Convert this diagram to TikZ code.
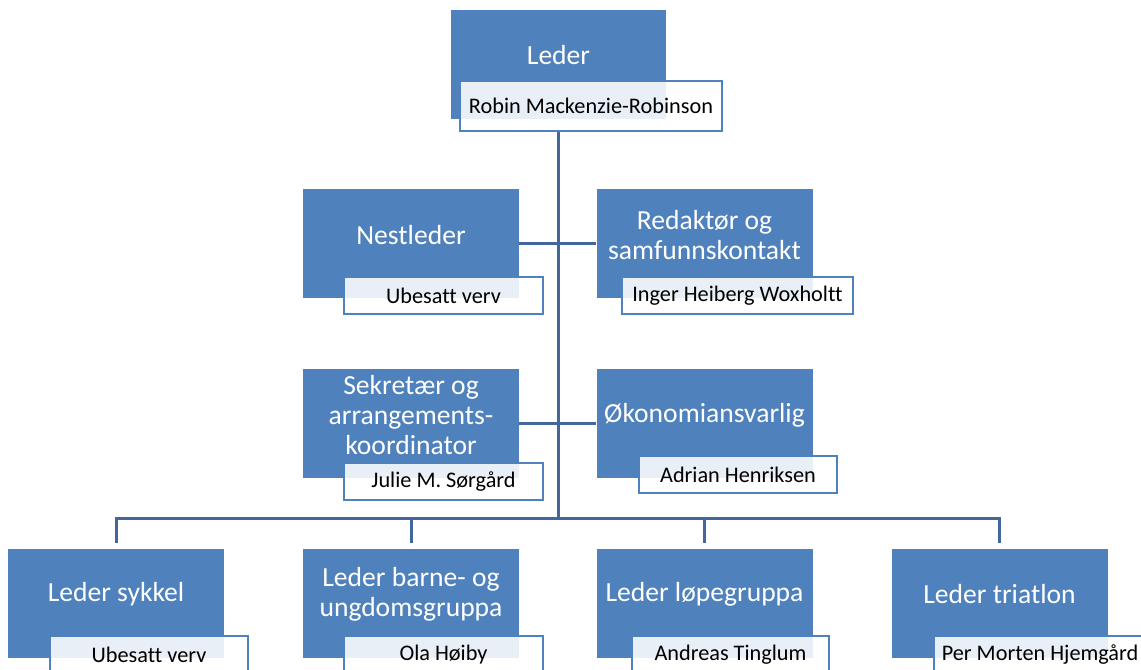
\documentclass[tikz,border=0pt]{standalone}
\usepackage{fontspec}
\setmainfont{Carlito}[Ligatures=CommonOff]
\usepackage{tikz}
\definecolor{roleblue}{RGB}{79,129,189}
\definecolor{linkblue}{RGB}{66,103,152}
\tikzset{
  roletext/.style={text=white, font=\fontsize{20.7}{22.5}\selectfont, align=center, yshift=6.4pt},
  role/.style={rectangle, fill=roleblue, minimum width=162pt, minimum height=81.75pt, label={[roletext]center:#1}},
  person/.style={rectangle, draw=roleblue, line width=2pt, fill=white, fill opacity=0.88, text opacity=1,
    font=\fontsize{16.7}{19}\selectfont, minimum width=#1*0.75pt, minimum height=27.75pt, inner sep=2pt}
}
\tikzstyle{link} = [draw=linkblue, line width=2.25pt]

\begin{document}
\begin{tikzpicture}[x=0.75pt, y=-0.75pt]
    \clip (0,0) rectangle (1141,669);

    % top
    \node (lead) [role={Leder}, minimum width=161.25pt] at (558.5,64) {};
    \node (leadname) [person=262, minimum height=37.5pt] at (591,106) {Robin Mackenzie-Robinson};

    % staff
    \node (nest) [role={Nestleder}] at (411,243.5) {};
    \node (nestname) [person=199] at (443.5,295.5) {Ubesatt verv};
    \node (redak) [role={Redaktør og\\samfunnskontakt}] at (704.5,243.5) {};
    \node (redakname) [person=231] at (737.5,295.5) {Inger Heiberg Woxholtt};
    \node (sekr) [role={Sekretær og\\arrangements-\\koordinator}] at (411,423.5) {};
    \node (sekrname) [person=199] at (443.5,481.5) {Julie M. Sørgård};
    \node (okon) [role={Økonomiansvarlig}] at (704.5,423.5) {};
    \node (okonname) [person=198] at (738,474.5) {Adrian Henriksen};

    % groups
    \node (sykkel) [role={Leder sykkel}] at (116,603) {};
    \node (sykkelname) [person=198] at (149,654.5) {Ubesatt verv};
    \node (barne) [role={Leder barne- og\\ungdomsgruppa}] at (411,603) {};
    \node (barnename) [person=199] at (443.5,654.5) {Ola Høiby};
    \node (lope) [role={Leder løpegruppa}] at (704.5,603) {};
    \node (lopename) [person=197] at (730.5,654.5) {Andreas Tinglum};
    \node (tri) [role={Leder triatlon}] at (999.5,603) {};
    \node (triname) [person=212] at (1040,654.5) {Per Morten Hjemgård};

    \coordinate (bus) at (558.5,518);

    \draw [link] (lead.south |- leadname.south) -- (bus);
    \draw [link] (nest.east) -- (redak.west);
    \draw [link] (sekr.east) -- (okon.west);
    \draw [link, shorten <=3.75pt, shorten >=3.75pt] (sykkel.north) |- (tri.north |- bus) -- (tri.north);
    \draw [link, shorten >=3.75pt] (barne.north |- bus) -- (barne.north);
    \draw [link, shorten >=3.75pt] (lope.north |- bus) -- (lope.north);
\end{tikzpicture}
\end{document}
